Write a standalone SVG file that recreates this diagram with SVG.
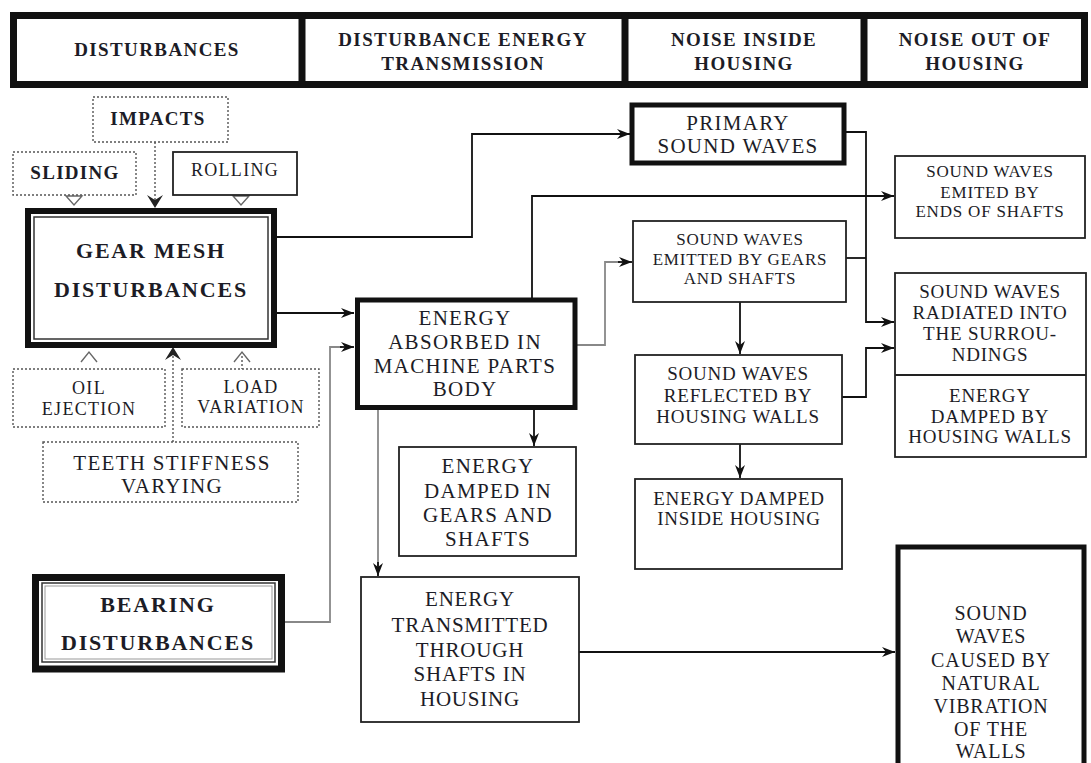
<svg xmlns="http://www.w3.org/2000/svg" width="1091" height="763" viewBox="0 0 1091 763" font-family="Liberation Serif, DejaVu Serif, serif">
<defs>
<marker id="ar" markerUnits="userSpaceOnUse" markerWidth="14" markerHeight="12" refX="13" refY="5" orient="auto">
<path d="M0,0 L13,5 L0,10 L4,5 z" fill="#111"/>
</marker>
<style>
text{font-family:'Liberation Serif','DejaVu Serif',serif;fill:#1c1c26;text-anchor:middle;letter-spacing:1.3px}
.h{font-weight:bold;font-size:19px;letter-spacing:1.4px}
.b{font-weight:bold;font-size:22px;letter-spacing:1.8px}
.s{letter-spacing:0.8px}
.box{fill:#fff;stroke:#222;stroke-width:1.8}
.thick{fill:#fff;stroke:#111;stroke-width:5}
.dot{fill:#fff;stroke:#555;stroke-width:1.4;stroke-dasharray:2 2}
.c{fill:none;stroke:#111;stroke-width:1.8}
.g{fill:none;stroke:#888;stroke-width:1.8}
.d{fill:none;stroke:#555;stroke-width:1.4;stroke-dasharray:2 2}
.tri{fill:none;stroke:#666;stroke-width:1.4}
</style>
</defs>
<rect width="1091" height="763" fill="#fff"/>

<g id="header">
<rect x="13.5" y="15.5" width="1071" height="69" fill="#fff" stroke="#111" stroke-width="7"/>
<line x1="302" y1="12" x2="302" y2="88" stroke="#111" stroke-width="7"/>
<line x1="625" y1="12" x2="625" y2="88" stroke="#111" stroke-width="7"/>
<line x1="864" y1="12" x2="864" y2="88" stroke="#111" stroke-width="7"/>
<text class="h" x="157" y="56">DISTURBANCES</text>
<text class="h" x="463" y="46">DISTURBANCE ENERGY</text>
<text class="h" x="463" y="70">TRANSMISSION</text>
<text class="h" x="744" y="46">NOISE  INSIDE</text>
<text class="h" x="744" y="70">HOUSING</text>
<text class="h" x="975" y="46">NOISE  OUT OF</text>
<text class="h" x="975" y="70">HOUSING</text>
</g>

<g id="connectors">
<path class="c" d="M277,237 H472 V134 H630" marker-end="url(#ar)"/>
<path class="c" d="M277,313 H354" marker-end="url(#ar)"/>
<path class="g" d="M285,622 H330 V347 H342"/>
<path class="c" d="M340,347 H354" marker-end="url(#ar)"/>
<path class="c" d="M532,298 V196 H894" marker-end="url(#ar)"/>
<path class="g" d="M577,345 H605 V262 H620"/>
<path class="c" d="M618,262 H632" marker-end="url(#ar)"/>
<path class="c" d="M844,132 H866 V322 H894" marker-end="url(#ar)"/>
<path class="c" d="M846,258 H866"/>
<path class="c" d="M842,397 H866 V348 H894" marker-end="url(#ar)"/>
<path class="c" d="M740,302 V354" marker-end="url(#ar)"/>
<path class="c" d="M740,444 V478" marker-end="url(#ar)"/>
<path class="c" d="M534,408 V446" marker-end="url(#ar)"/>
<path class="g" d="M378,410 V566"/>
<path class="c" d="M378,562 V576" marker-end="url(#ar)"/>
<path class="c" d="M579,652 H895" marker-end="url(#ar)"/>
<path class="d" d="M155,142 V200"/>
<path d="M147,195 L155,208 L163,195 L155,200 z" fill="#222"/>
<path class="tri" d="M66,196 H82 L74,205 z"/>
<path class="tri" d="M233,196 H249 L241,205 z"/>
<path class="tri" d="M81,362 L89,352 L97,362"/>
<path class="tri" d="M234,362 L242,352 L250,362"/>
<path class="d" d="M242,356 V369"/>
<path class="d" d="M173,442 V356"/>
<path d="M165,360 L173,347 L181,360 L173,355 z" fill="#222"/>
</g>

<g id="impacts">
<rect class="dot" x="93" y="97" width="135" height="45"/>
<text x="158" y="125" style="font-size:19px;font-weight:bold">IMPACTS</text>
</g>
<g id="sliding">
<rect class="dot" x="13" y="152" width="123" height="43"/>
<text x="75" y="179" style="font-size:19px;font-weight:bold">SLIDING</text>
</g>
<g id="rolling">
<rect class="box" x="173" y="152" width="124" height="43"/>
<text x="235" y="176" style="font-size:18px">ROLLING</text>
</g>

<g id="gear-mesh">
<rect x="28" y="211" width="246" height="134" fill="#fff" stroke="#111" stroke-width="6"/>
<rect x="34" y="217" width="234" height="122" fill="none" stroke="#333" stroke-width="1.5"/>
<text class="b" x="151" y="258">GEAR MESH</text>
<text class="b" x="151" y="297">DISTURBANCES</text>
</g>

<g id="oil">
<rect class="dot" x="13" y="369" width="152" height="58"/>
<text x="89" y="394" style="font-size:18px">OIL</text>
<text x="89" y="415" style="font-size:18px">EJECTION</text>
</g>
<g id="load">
<rect class="dot" x="182" y="369" width="137" height="58"/>
<text x="251" y="393" style="font-size:18px">LOAD</text>
<text x="251" y="413" style="font-size:18px">VARIATION</text>
</g>
<g id="teeth">
<rect class="dot" x="43" y="442" width="255" height="60"/>
<text x="172" y="470" style="font-size:21px">TEETH STIFFNESS</text>
<text x="172" y="493" style="font-size:21px">VARYING</text>
</g>

<g id="bearing">
<rect x="35.5" y="577.5" width="246" height="91.5" fill="#fff" stroke="#111" stroke-width="7"/>
<rect x="42" y="583" width="233" height="79" fill="none" stroke="#333" stroke-width="1.5"/>
<rect x="45" y="586" width="227" height="73" fill="none" stroke="#999" stroke-width="1"/>
<text class="b" x="158" y="612">BEARING</text>
<text class="b" x="158" y="650">DISTURBANCES</text>
</g>

<g id="absorbed">
<rect class="thick" x="357.5" y="300" width="217.5" height="107.5"/>
<text x="465" y="325" style="font-size:21px">ENERGY</text>
<text x="465" y="349" style="font-size:21px">ABSORBED IN</text>
<text x="465" y="373" style="font-size:21px">MACHINE PARTS</text>
<text x="465" y="396" style="font-size:21px">BODY</text>
</g>

<g id="damped-gears">
<rect class="box" x="399" y="447" width="177" height="109"/>
<text x="488" y="473" style="font-size:21px">ENERGY</text>
<text x="488" y="498" style="font-size:21px">DAMPED IN</text>
<text x="488" y="522" style="font-size:21px">GEARS AND</text>
<text x="488" y="546" style="font-size:21px">SHAFTS</text>
</g>

<g id="transmitted">
<rect class="box" x="361" y="577" width="218" height="145"/>
<text class="s" x="470" y="606" style="font-size:21px">ENERGY</text>
<text class="s" x="470" y="632" style="font-size:21px">TRANSMITTED</text>
<text class="s" x="470" y="657" style="font-size:21px">THROUGH</text>
<text class="s" x="470" y="681" style="font-size:21px">SHAFTS  IN</text>
<text class="s" x="470" y="706" style="font-size:21px">HOUSING</text>
</g>

<g id="primary">
<rect class="thick" x="632" y="105" width="212" height="58"/>
<text x="738" y="130" style="font-size:21px">PRIMARY</text>
<text x="738" y="153" style="font-size:21px">SOUND WAVES</text>
</g>

<g id="emitted">
<rect class="box" x="633" y="221" width="213" height="81"/>
<text class="s" x="740" y="245" style="font-size:17px">SOUND WAVES</text>
<text class="s" x="740" y="265" style="font-size:17px">EMITTED BY GEARS</text>
<text class="s" x="740" y="284" style="font-size:17px">AND SHAFTS</text>
</g>

<g id="reflected">
<rect class="box" x="635" y="355" width="207" height="89"/>
<text class="s" x="738" y="380" style="font-size:19px">SOUND WAVES</text>
<text class="s" x="738" y="402" style="font-size:19px">REFLECTED BY</text>
<text class="s" x="738" y="423" style="font-size:19px">HOUSING WALLS</text>
</g>

<g id="damped-inside">
<rect class="box" x="635" y="479" width="207" height="90"/>
<text class="s" x="739" y="505" style="font-size:19px">ENERGY DAMPED</text>
<text class="s" x="739" y="525" style="font-size:19px">INSIDE HOUSING</text>
</g>

<g id="ends">
<rect class="box" x="895" y="156" width="190" height="82"/>
<text class="s" x="990" y="177" style="font-size:17px">SOUND WAVES</text>
<text class="s" x="990" y="198" style="font-size:17px">EMITED BY</text>
<text class="s" x="990" y="217" style="font-size:17px">ENDS OF SHAFTS</text>
</g>

<g id="radiated">
<rect class="box" x="895" y="273" width="191" height="184"/>
<line x1="895" y1="375" x2="1086" y2="375" stroke="#222" stroke-width="1.8"/>
<text class="s" x="990" y="298" style="font-size:19px">SOUND WAVES</text>
<text class="s" x="990" y="319" style="font-size:19px">RADIATED INTO</text>
<text class="s" x="990" y="340" style="font-size:19px">THE SURROU-</text>
<text class="s" x="990" y="361" style="font-size:19px">NDINGS</text>
<text class="s" x="990" y="402" style="font-size:19px">ENERGY</text>
<text class="s" x="990" y="423" style="font-size:19px">DAMPED BY</text>
<text class="s" x="990" y="443" style="font-size:19px">HOUSING WALLS</text>
</g>

<g id="caused">
<rect class="thick" x="898" y="547" width="186" height="225"/>
<text class="s" x="991" y="620" style="font-size:20px">SOUND</text>
<text class="s" x="991" y="643" style="font-size:20px">WAVES</text>
<text class="s" x="991" y="667" style="font-size:20px">CAUSED BY</text>
<text class="s" x="991" y="690" style="font-size:20px">NATURAL</text>
<text class="s" x="991" y="713" style="font-size:20px">VIBRATION</text>
<text class="s" x="991" y="736" style="font-size:20px">OF THE</text>
<text class="s" x="991" y="758" style="font-size:20px">WALLS</text>
</g>
</svg>
